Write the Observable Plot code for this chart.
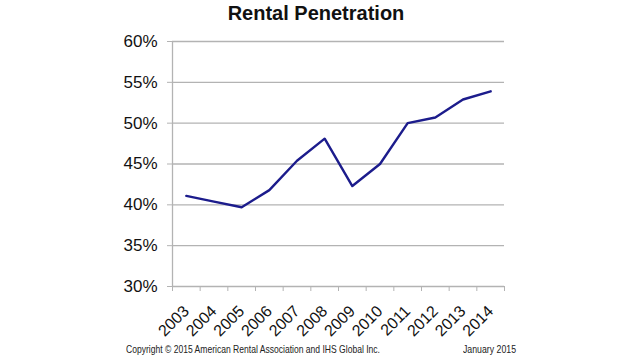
<!DOCTYPE html>
<html>
<head>
<meta charset="utf-8">
<script src="https://cdn.jsdelivr.net/npm/d3@7"></script>
<script src="https://cdn.jsdelivr.net/npm/@observablehq/plot@0.6"></script>
<style>
  html, body { margin: 0; padding: 0; background: #fff; }
  #wrap { position: relative; width: 640px; height: 360px; font-family: "Liberation Sans", Arial, sans-serif; color: #111; }
  #title { position: absolute; left: 0; width: 640px; top: 2px; text-align: center; font-weight: bold; font-size: 20px; padding-left: 0; }
  #title span { position: relative; left: -4px; }
  .foot { position: absolute; top: 343px; font-size: 11px; white-space: nowrap; transform-origin: 0 0; color: #222; }
  #chart svg { display: block; }
</style>
</head>
<body>
<div id="wrap">
  <div id="chart"></div>
  <div id="title"><span>Rental Penetration</span></div>
  <div class="foot" id="copy">Copyright © 2015 American Rental Association and IHS Global Inc.</div>
  <div class="foot" id="date">January 2015</div>
</div>
<script>
const years = [2003, 2004, 2005, 2006, 2007, 2008, 2009, 2010, 2011, 2012, 2013, 2014];
const penetration = [41.1, 40.4, 39.7, 41.8, 45.4, 48.1, 42.3, 45.0, 50.0, 50.7, 52.9, 53.9];
const yTicks = [30, 35, 40, 45, 50, 55, 60];

const data = years.map((year, i) => ({year, value: penetration[i]}));
const bounds = [...years.map(y => y - 0.5), years[years.length - 1] + 0.5];
const gray = "#b3b3b3";

const chart = Plot.plot({
  width: 640,
  height: 360,
  marginLeft: 172,
  marginRight: 136,
  marginTop: 41,
  marginBottom: 74,
  style: {fontFamily: "'Liberation Sans', Arial, sans-serif", color: "#111", background: "#fff"},
  x: {type: "linear", domain: [bounds[0], bounds[bounds.length - 1]]},
  y: {domain: [30, 60]},
  marks: [
    Plot.gridY(yTicks, {stroke: gray, strokeOpacity: 1, strokeWidth: 1.3}),
    Plot.ruleX([bounds[0]], {stroke: gray, strokeWidth: 1.3}),
    Plot.axisY({ticks: yTicks, tickFormat: d => d + "%", tickSize: 5, stroke: gray, tickPadding: 10, fontSize: 17, label: null}),
    Plot.axisX({ticks: bounds, tickFormat: () => "", tickSize: 5, stroke: gray, label: null}),
    Plot.axisX({ticks: years, tickFormat: d => String(d), tickSize: 0, tickRotate: -45, tickPadding: 22, fontSize: 16, label: null}),
    Plot.line(data, {x: "year", y: "value", stroke: "#1c1c8c", strokeWidth: 2.4})
  ]
});
document.getElementById("chart").appendChild(chart);

function fit(id, left, width) {
  const el = document.getElementById(id);
  const w = el.getBoundingClientRect().width;
  el.style.left = left + "px";
  el.style.transform = `scaleX(${width / w})`;
}
fit("copy", 126, 254);
fit("date", 463, 53);
</script>
</body>
</html>
